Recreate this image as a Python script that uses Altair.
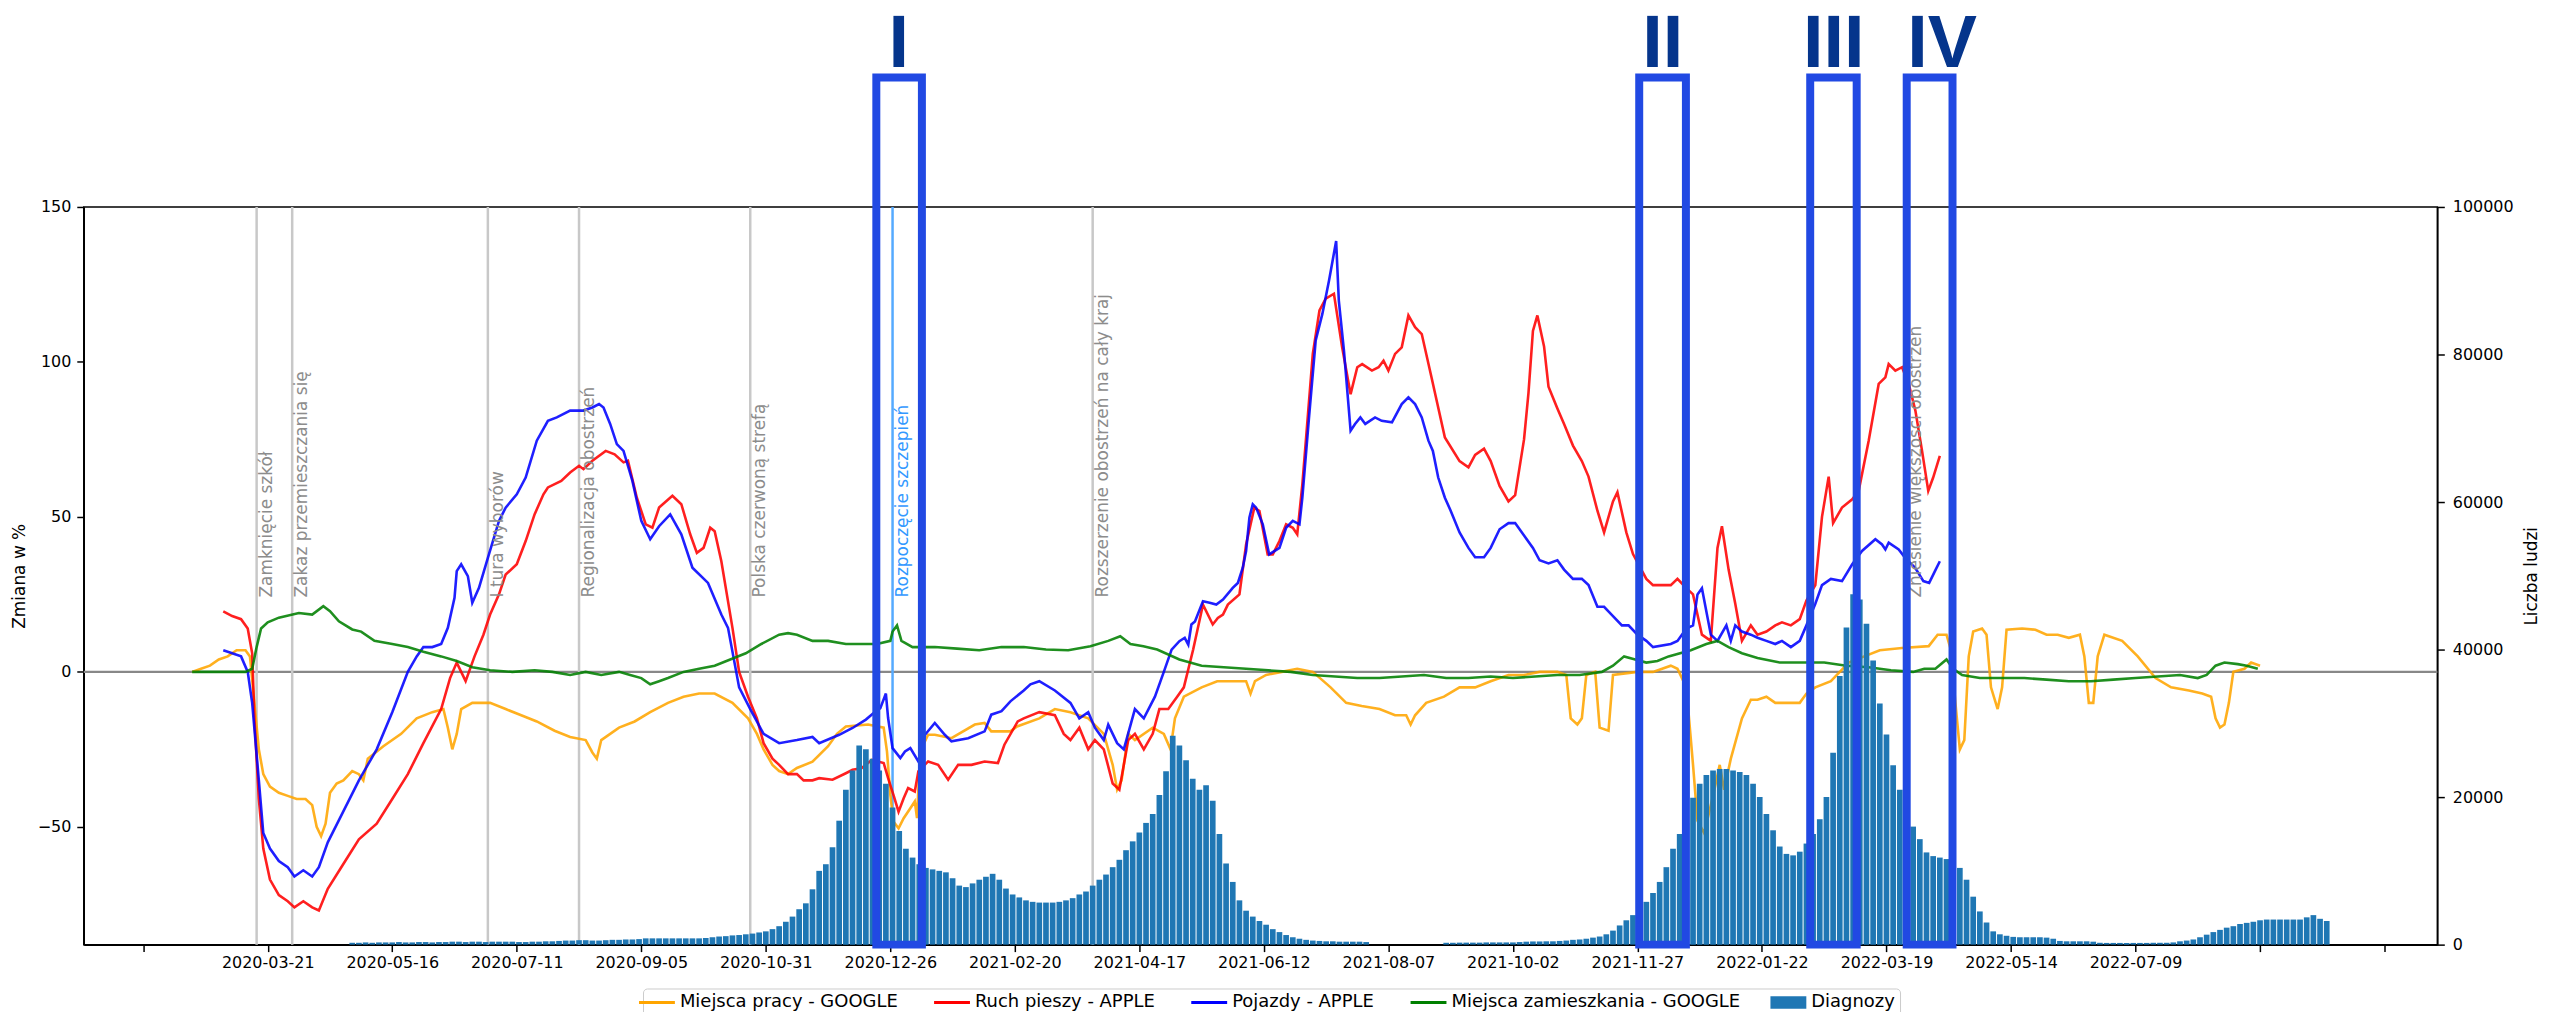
import altair as alt
import pandas as pd

BASE = pd.Timestamp("2020-03-21")

SERIES = ["Miejsca pracy - GOOGLE", "Ruch pieszy - APPLE", "Pojazdy - APPLE",
          "Miejsca zamieszkania - GOOGLE", "Diagnozy"]
COLORS = ["#ffa500", "#ff0000", "#0000ff", "#008000", "#1f77b4"]

# (day offset from 2020-03-21, % change)
work = [(-34,0),(-30,1),(-26,2),(-22,4),(-18,5),(-14,7),(-10,7),(-8,5),(-6,-10),(-4,-25),(-2,-33),(1,-37),(5,-39),(9,-40),(13,-41),(17,-41),(20,-43),(22,-50),(24,-53),(26,-49),(28,-39),(31,-36),(34,-35),(38,-32),(41,-33),(43,-35),(45,-28),(52,-24),(60,-20),(67,-15),(74,-13),(79,-12),(81,-18),(83,-25),(85,-20),(87,-12),(92,-10),(100,-10),(107,-12),(114,-14),(121,-16),(129,-19),(136,-21),(143,-22),(146,-26),(148,-28),(150,-22),(158,-18),(165,-16),(172,-13),(180,-10),(187,-8),(194,-7),(201,-7),(209,-10),(216,-15),(220,-20),(223,-25),(227,-30),(230,-32),(234,-33),(238,-31),(245,-29),(252,-24),(256,-20),(260,-17.6),(270,-17),(277,-18),(278.5,-25.7),(280,-39.7),(281.4,-48.3),(283.7,-50.5),(286,-47.2),(289,-44),(291,-41.8),(292,-47.2),(293.4,-25.7),(297,-20.3),(300,-20.3),(307.5,-21.4),(318,-17),(322.4,-16.5),(325.4,-19.2),(334,-19.2),(337,-17.6),(347,-15),(354,-12),(361,-13),(369,-15),(376,-20),(380,-30),(382,-38),(384,-35),(387,-20),(390,-22),(398,-18),(403,-20),(406,-25),(408,-15),(412,-8),(420,-5),(427,-3),(434,-3),(440,-3),(442,-7),(444,-3),(449,-1),(456,0),(463,1),(470,0),(478,-5),(485,-10),(492,-11),(500,-12),(507,-14),(512,-14),(514,-17),(516,-14),(521,-10),(529,-8),(536,-5),(543,-5),(550,-3),(558,-1),(565,-1),(572,0),(580,0),(584,-1),(586,-15),(589,-17),(591,-15),(593,-1),(597,0),(599,-18),(603,-19),(605,-1),(616,0),(623,0),(631,2),(634,1),(638,-5),(641,-30),(643,-48),(646,-52),(650,-40),(653,-30),(655,-38),(658,-28),(663,-15),(667,-9),(670,-9),(674,-8),(678,-10),(685,-10),(689,-10),(692,-7),(696,-5),(703,-3),(707,0),(711,3),(718,5),(725,7),(735,7.7),(747,8.3),(751,12),(755,12),(757,7),(759,-10),(761,-25),(763,-22),(765,5),(767,13),(771,14),(773,12),(775,-5),(778,-12),(780,-5),(782,13.6),(789,14),(795,13.6),(800,12),(805,12),(810,11),(815,12),(817,5),(819,-10),(821,-10),(823,5),(826,12),(834,10),(841,5),(849,-2),(856,-5),(864,-6),(870,-7),(874,-8),(876,-15),(878,-18),(880,-17),(882,-10),(884,0),(889,1),(892,3),(896,2)]

walk = [(-20,19.5),(-16,18),(-12,17),(-9,14),(-7,6),(-6,-15),(-4,-41),(-2,-57),(1,-67),(5,-72),(9,-74),(12,-76),(16,-74),(20,-76),(23,-77),(27,-70),(34,-62),(41,-54),(49,-49),(56,-41),(63,-33),(70,-23),(78,-12),(82,-2),(85,3),(89,-3),(93,5),(97,12),(100,18.5),(104,25),(107,31.4),(112,34.7),(116,42.2),(120,50.8),(124,57.3),(126,59.5),(132,61.6),(136,64.3),(140,66.5),(142,65.4),(146,68.1),(152,71.3),(156,70.2),(160,67.6),(162,68.1),(166,56.2),(170,47.6),(173,46.5),(176,53),(182,56.8),(186,54.1),(190,44.4),(193,38.4),(196,40),(199,46.5),(201,45.4),(204,35.7),(209,14.2),(212,0),(216,-8),(220,-15),(223,-23),(227,-28),(230,-30),(234,-33),(238,-33),(241,-35),(245,-35),(248,-34.3),(254,-34.8),(260,-32.7),(263,-31.6),(267,-31.1),(271.7,-28.4),(277,-29.4),(279,-34.3),(281.4,-39.7),(283.7,-45.1),(286,-40.8),(288,-37.5),(291,-38.6),(292.6,-32.1),(297,-28.9),(301.5,-30),(306,-34.8),(310.5,-30),(316.5,-30),(322.4,-28.9),(328.4,-29.4),(331.3,-23.5),(337.3,-16),(340,-15),(347,-13),(354,-14),(358,-20),(361,-22),(365,-18),(369,-25),(372,-22),(376,-25),(380,-36),(383,-38),(387,-22),(390,-20),(394,-25),(398,-20),(401,-12),(405,-12),(409,-8),(412,-5),(416.2,7.2),(420.6,21.7),(425,15.3),(427.3,17.4),(429.6,18.5),(431.8,21.7),(437,25),(440,41.1),(443.7,53),(446,51.9),(449.7,37.9),(452,37.9),(455,42.2),(458,47.6),(461,46.5),(463,44.4),(465.3,60.5),(470,102.6),(473,116.6),(475.8,120.4),(479.5,122),(483.2,104.7),(487,89.6),(490,98.3),(492.2,99.3),(496.6,97.2),(499.6,98.3),(501.8,100.4),(504,97.2),(507,102.6),(510,104.7),(513,115),(516,111.2),(519,109),(523.4,95),(529.4,75.6),(536,68),(540,66),(543,70),(547,72),(550,68),(554,60),(558,55),(561,57),(565,75),(567,90),(569,110),(571,115),(574,105),(576,92),(580,85),(583,80),(587,73),(591,68),(594,63),(598,52),(601,45),(605,55),(607,58),(611,45),(614,38),(617,34),(620,30),(623,28),(631,28),(634,30),(638,27),(641,25),(645,12),(649,10),(652,40),(654,47),(657,33),(660,22),(663,10),(667,15),(670,12),(674,13),(678,15),(681,16),(685,15),(689,17),(692,23),(696,28),(699,50),(702,63),(704,48),(708,53),(712.6,55.7),(715.5,58.4),(720,74.6),(724.5,92.9),(727.5,95),(729,99.3),(732,97.2),(735,98.3),(738,92.9),(741,84.3),(744,71.3),(746.8,58.4),(749,62.7),(752,69.7)]

cars = [(-20,7),(-16,6),(-12,5),(-9,0),(-7,-10),(-4,-35),(-2,-52),(1,-57),(5,-61),(9,-63),(12,-66),(16,-64),(20,-66),(23,-63),(27,-55),(34,-45),(41,-35),(49,-25),(56,-13),(63,0),(67,5),(70,8),(74,8),(78,9),(81,14.2),(84,23.9),(85,32.5),(87,34.7),(90,30.9),(92,22.3),(95,27.1),(99,36.8),(104,48.7),(107,53),(112,57.3),(116,62.7),(121,74.6),(126,81),(130,82.1),(136,84.3),(142,84.3),(146,85.3),(149,86.4),(151,85.3),(154,80),(157,73.5),(160,71.3),(164,61.6),(168,48.7),(172,42.8),(176,47),(181,50.8),(186,44.4),(191,33.6),(198,28.7),(204,18.5),(207,14.2),(212,-5),(217,-12),(223,-20),(230,-23),(238,-22),(245,-21),(248,-23),(257,-20.3),(263,-18.1),(269,-15.4),(272.5,-13.3),(275.5,-11.7),(278,-7),(279,-14.9),(281,-24.6),(284.5,-27.8),(286.6,-25.7),(289,-24.6),(292.6,-28.9),(295.6,-20.3),(300,-16.5),(304.5,-20.3),(307.5,-22.4),(315,-21.4),(322.4,-19.2),(325.4,-13.8),(330,-12.7),(334,-9.5),(340,-6),(343,-4),(347,-3),(354,-6),(361,-10),(365,-15),(369,-13),(372,-18),(376,-22),(378,-17),(382,-23),(385,-25),(390,-12),(394,-15),(399,-8),(403,0),(406.5,7.2),(410,9.9),(412.4,11),(414,8.8),(415.4,15.3),(417,16.3),(420.6,22.8),(423.6,22.3),(426.6,21.7),(429.6,23.3),(434,27.1),(436.3,28.7),(438.5,33.6),(440,39),(441.5,49.8),(443,54.1),(444.5,53),(447.5,47.6),(450.4,37.9),(455,40),(458,46.5),(461,48.7),(464,47.6),(465.3,56.2),(468.3,82.1),(471.3,106.9),(474.3,115.5),(477.3,126.3),(480.5,139),(481.7,119.8),(484,103.7),(487,77.8),(489,80),(491.4,82.1),(493.6,80),(498,82.1),(501,81),(505.6,80.5),(510,86.4),(513,88.6),(516,86.4),(519,82.1),(522,74.6),(524,71.3),(526.4,62.7),(529.4,56.2),(532,52),(536,45),(540,40),(543,37),(547,37),(550,40),(554,46),(558,48),(561,48),(565,44),(569,40),(572,36),(576,35),(580,36),(583,33),(587,30),(591,30),(594,28),(598,21),(601,21),(605,18),(609,15),(612,15),(616,12),(620,10),(623,8),(631,9),(634,10),(638,14),(641,15),(643,25),(645,27),(649,12),(652,10),(656,15),(658,10),(660,15),(663,13),(667,12),(670,11),(674,10),(678,9),(681,10),(685,8),(689,10),(692,15),(696,22),(699,28),(703,30),(708,29.3),(712.6,34.7),(717,39),(723,42.8),(726,41.1),(727.5,39.5),(729,41.7),(733.5,39.5),(736.4,36.8),(740.9,33.6),(744.6,29.3),(747.2,28.7),(749.8,32.5),(752,35.7)]

home = [(-34,0),(-20,0),(-10,0),(-7,1),(-5,8),(-3,14),(0,16),(5,17.5),(14,19),(20,18.5),(25,21.2),(28,19.6),(32,16.3),(38,13.7),(42,13),(48,10),(56,9),(63,8),(70,6.5),(78,5),(85,3.5),(92,1.5),(100,0.5),(110,0),(120,0.5),(128,0),(136,-1),(143,0),(150,-1),(158,0),(163,-1),(168,-2),(172,-4),(176,-3),(180,-2),(187,0),(194,1),(201,2),(208,4),(215,6),(222,9),(230,12),(234,12.5),(238,12),(245,10),(252,10),(260,9),(267,9),(274,9),(280,10),(281,13),(283,15),(285,10),(290,8),(300,8),(310,7.5),(320,7),(330,8),(340,8),(350,7.2),(360,7),(370,8.3),(378,10),(383.4,11.5),(388,9),(393.8,8.3),(400,7.2),(410,4),(420,2),(430,1.5),(440,1),(450,0.5),(460,0),(470,-1),(480,-1.5),(490,-2),(500,-2),(510,-1.5),(520,-1),(530,-2),(540,-2),(550,-1.5),(560,-2),(570,-1.5),(580,-1),(590,-1),(600,0),(605,2),(610,5),(615,4),(620,3),(625,3.5),(630,5),(640,7),(647,9),(652,10),(657,8),(663,6),(670,4.5),(680,3),(690,3),(700,3),(710,2),(720,1.5),(730,0.5),(740,0),(745,1),(750,1),(755,4),(758,1),(762,-1),(770,-2),(780,-2),(790,-2),(800,-2.5),(810,-3),(820,-3),(830,-2.5),(840,-2),(850,-1.5),(860,-1),(868,-2),(872,-1),(876,2),(880,3),(886,2.5),(890,2),(895,1)]

# daily diagnoses, one value every 3 days starting 2020-04-28
cases_start = "2020-04-28"
cases = [250,250,300,250,300,300,300,350,300,300,
         350,350,300,350,350,400,400,350,400,400,
         350,400,400,400,400,350,350,400,400,450,
         450,500,550,550,600,600,550,550,600,650,
         650,700,700,750,850,850,850,850,850,850,
         850,850,850,900,1000,1100,1150,1250,1300,1400,
         1500,1650,1800,2100,2500,3100,3800,4800,5600,7500,
         10000,10900,13200,16800,21000,23600,27000,26500,25200,23600,
         21800,18600,15400,13000,11800,10900,10400,10200,10000,9800,
         9000,8000,7800,8300,8800,9200,9600,8800,7600,6800,
         6400,6000,5800,5700,5700,5700,5800,6000,6300,6800,
         7200,8000,8800,9500,10500,11500,12800,14000,15200,16500,
         17700,20300,23500,28300,27000,25000,22500,21000,21600,19500,
         15000,11000,8500,6000,4600,3800,3200,2700,2100,1700,
         1300,1000,800,650,550,500,450,450,400,400,
         400,400,350,0,0,0,0,0,0,0,
         0,0,0,0,250,250,270,270,270,270,
         300,300,300,300,300,350,400,430,430,450,
         450,500,550,650,700,800,950,1100,1400,1900,
         2600,3300,4000,4800,5800,7000,8500,10500,13000,15000,
         16500,19900,21800,23000,23600,23800,23800,23600,23400,23000,
         21800,20000,17700,15500,13300,12300,12100,12600,13700,15000,
         17000,20000,26000,36400,43000,47500,46800,43500,38500,32700,
         28500,24300,21000,18000,16000,14300,12500,12000,11800,11600,
         11300,10400,8800,6500,4500,3000,1800,1400,1200,1050,
         1000,1000,1000,1000,950,800,500,450,450,450,
         450,400,250,230,230,230,230,230,230,230,
         250,250,250,300,450,550,700,1000,1350,1700,
         2000,2300,2500,2800,2950,3100,3300,3400,3400,3400,
         3400,3400,3400,3700,4000,3500,3200]

event_dates = ["2020-03-16", "2020-04-01", "2020-06-28", "2020-08-08",
               "2020-10-24", "2021-03-27", "2022-03-28"]
event_labels = ["Zamknięcie szkół", "Zakaz przemieszczania się", "I tura wyborów",
                "Regionalizacja obostrzeń", "Polska czerwoną strefą",
                "Rozszerzenie obostrzeń na cały kraj", "Zniesienie większości obostrzeń"]
vacc_date = ["2020-12-27"]
vacc_label = ["Rozpoczęcie szczepień"]
label_level = 24

box_labels = ["I", "II", "III", "IV"]
box_start = [273.7, 616.8, 693.7, 737.1]
box_end = [294.2, 637.8, 714.6, 757.7]
label_center = [283.8, 627.4, 704.3, 753.0]
box_top = 191.8
box_label_level = 195

x_ticks = ["2020-01-25", "2020-03-21", "2020-05-16", "2020-07-11", "2020-09-05",
           "2020-10-31", "2020-12-26", "2021-02-20", "2021-04-17", "2021-06-12",
           "2021-08-07", "2021-10-02", "2021-11-27", "2022-01-22", "2022-03-19",
           "2022-05-14", "2022-07-09", "2022-09-03", "2022-10-29"]
x_first_label, x_last_label = "2020-03-21", "2022-07-09"
x_range = ["2019-12-31T12:00", "2022-11-19T12:00"]


def ms_of(ts):
    return int(pd.Timestamp(ts).value // 1_000_000)


def ms_days(days):
    return [ms_of(BASE + pd.Timedelta(days=float(d))) for d in days]


def series_df(pairs, name):
    return pd.DataFrame({"t": ms_days([p[0] for p in pairs]),
                         "value": [p[1] for p in pairs], "series": name})


FONT = "DejaVu Sans"
IS_CASES = "datum.value === 'Diagnozy'"

xscale = alt.Scale(domain=[ms_of(x_range[0]), ms_of(x_range[1])], nice=False, zero=False)
lo, hi = ms_of(x_first_label), ms_of(x_last_label)
xaxis = alt.Axis(values=[ms_of(s) for s in x_ticks], title="", labelFlush=False, labelOverlap=False,
                 labelExpr=f"(datum.value < {lo} || datum.value > {hi}) ? '' : utcFormat(datum.value, '%Y-%m-%d')",
                 labelPadding=3, tickSize=7, labelFontSize=16)


def XA(field):
    # every layer uses the identical axis definition so the shared x axis is kept
    return alt.X(field, scale=xscale, axis=xaxis)


X = XA("t:Q")

yscale = alt.Scale(domain=[-88, 150], nice=False, zero=False)
yaxis = alt.Axis(orient="left", values=[-50, 0, 50, 100, 150], title="Zmiana w %",
                 labelExpr="replace(format(datum.value, 'd'), '-', '\u2212')",
                 labelPadding=6, titlePadding=9, tickSize=7, labelFontSize=16)
Y = alt.Y("value:Q", scale=yscale, axis=yaxis)

legend = alt.Legend(
    title=None, orient="none", legendX=561, legendY=784, direction="horizontal", columns=5,
    symbolType=alt.ExprRef(expr=IS_CASES + " ? 'M-1,-0.345H1V0.345H-1Z' : 'stroke'"),
    symbolFillColor=alt.ExprRef(expr=IS_CASES + " ? '#1f77b4' : 'transparent'"),
    symbolStrokeWidth=alt.ExprRef(expr=IS_CASES + " ? 0 : 3"),
    symbolSize=1296, symbolOpacity=1, labelFont=FONT, labelFontSize=18,
    labelColor="black", columnPadding=30, padding=5, strokeColor="#cccccc", fillColor="#ffffff",
    cornerRadius=4, labelOffset=14, labelLimit=600)
C = alt.Color("series:N", scale=alt.Scale(domain=SERIES, range=COLORS), legend=legend)

zero_df = pd.DataFrame({"value": [0]})
zero_rule = alt.Chart(zero_df).mark_rule(color="#888888", strokeWidth=2.5).encode(y=Y)

ev_df = pd.DataFrame({"t": [ms_of(d) for d in event_dates], "label": event_labels, "value": label_level})
ev_rules = alt.Chart(ev_df).mark_rule(color="#c8c8c8", strokeWidth=2.5).encode(x=X)
ev_text = alt.Chart(ev_df).mark_text(angle=270, align="left", baseline="top", dy=2, fontSize=17,
                                     font=FONT, color="#8c8c8c").encode(x=X, y=Y, text="label:N")
vac_df = pd.DataFrame({"t": [ms_of(d) for d in vacc_date], "label": vacc_label, "value": label_level})
vac_rule = alt.Chart(vac_df).mark_rule(color="#55aaff", strokeWidth=2.5).encode(x=X)
vac_text = alt.Chart(vac_df).mark_text(angle=270, align="left", baseline="top", dy=2, fontSize=17,
                                       font=FONT, color="#3399ff").encode(x=X, y=Y, text="label:N")


def line(pairs, name):
    return alt.Chart(series_df(pairs, name)).mark_line(strokeWidth=2.6, opacity=0.88).encode(
        x=X, y=Y, color=C)


lines = alt.layer(zero_rule, ev_rules, vac_rule,
                  line(work, SERIES[0]), line(walk, SERIES[1]),
                  line(cars, SERIES[2]), line(home, SERIES[3]),
                  ev_text, vac_text)

cases_df = pd.DataFrame({
    "t": [ms_of(d) for d in pd.date_range(cases_start, periods=len(cases), freq="3D")],
    "cases": cases})
bars = alt.Chart(cases_df).mark_bar(size=5.7, color="#1f77b4").encode(
    x=X,
    y=alt.Y("cases:Q", scale=alt.Scale(domain=[0, 100000], nice=False),
            axis=alt.Axis(orient="right", values=[0, 20000, 40000, 60000, 80000, 100000],
                          format="d", title="Liczba ludzi", titleAngle=270, titleBaseline="top",
                          labelPadding=8, titlePadding=10, tickSize=7, labelFontSize=16)))

box_df = pd.DataFrame({"t": ms_days(box_start), "t2": ms_days(box_end), "mid": ms_days(label_center),
                       "top": box_top, "bottom": -88, "lvl": box_label_level, "label": box_labels})
oscale = alt.Scale(domain=[-88, 150], nice=False, zero=False)
boxes = alt.Chart(box_df).mark_rect(filled=False, stroke="#2149e3", strokeWidth=8).encode(
    x=X, x2="t2:Q", y=alt.Y("top:Q", scale=oscale, axis=None), y2="bottom:Q")
numerals = alt.Chart(box_df).mark_text(font="Liberation Sans", fontWeight="bold", fontSize=74,
                                       color="#05358c", baseline="alphabetic", align="center").encode(
    x=XA("mid:Q"), y=alt.Y("lvl:Q", scale=oscale, axis=None), text="label:N")
overlay = alt.layer(boxes, numerals)

chart = alt.layer(lines, bars, overlay).resolve_scale(y="independent").properties(
    width=2361, height=740,
    padding={"left": 76, "top": 198, "right": 107, "bottom": 66},
    autosize=alt.AutoSizeParams(type="none"),
).configure_view(stroke="black", strokeWidth=1.5).configure_axis(
    grid=False, domainColor="black", tickColor="black", labelColor="black", titleColor="black",
    labelFont=FONT, titleFont=FONT, labelFontSize=16, titleFontSize=17, titleFontWeight="normal",
    domainWidth=1.5, tickWidth=1.5)

chart.save("out.html", embed_options={"renderer": "svg", "actions": False})
